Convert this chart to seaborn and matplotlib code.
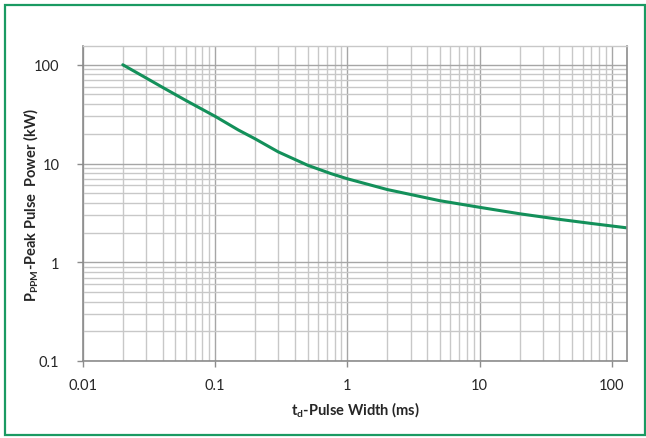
import matplotlib
matplotlib.use("Agg")
import matplotlib.pyplot as plt
import seaborn as sns
import pandas as pd
from matplotlib.patches import Rectangle
from matplotlib.ticker import LogLocator, NullFormatter, FixedLocator, FixedFormatter

pulse_width_ms = [0.02, 0.03, 0.04, 0.06, 0.1, 0.15, 0.2, 0.3, 0.4, 0.5, 0.75, 1.0, 2.0, 5.0, 10.0, 20.0, 40.0, 70.0, 130.0]
peak_power_kw = [100, 73.5, 59, 43.5, 30.0, 21.8, 17.8, 13.1, 11.0, 9.6, 7.9, 7.0, 5.45, 4.2, 3.6, 3.1, 2.72, 2.47, 2.23]

x_ticks = [0.01, 0.1, 1, 10, 100]
x_tick_labels = ["0.01", "0.1", "1", "10", "100"]
y_ticks = [0.1, 1, 10, 100]
y_tick_labels = ["0.1", "1", "10", "100"]

df = pd.DataFrame({"t": pulse_width_ms, "p": peak_power_kw})

sns.set_theme(style="white")
plt.rcParams['font.family'] = ['Lato', 'DejaVu Sans']

fig = plt.figure(figsize=(6.46, 4.39), dpi=100)
ax = fig.add_axes([0.1285, 0.1754, 0.8421, 0.7176])

sns.lineplot(data=df, x="t", y="p", ax=ax, color="#13905a", linewidth=2.2)
ax.set_xscale("log")
ax.set_yscale("log")
ax.set_xlim(0.01, 130)
ax.set_ylim(0.1, 155)

ax.xaxis.set_major_locator(FixedLocator(x_ticks))
ax.xaxis.set_major_formatter(FixedFormatter(x_tick_labels))
ax.yaxis.set_major_locator(FixedLocator(y_ticks))
ax.yaxis.set_major_formatter(FixedFormatter(y_tick_labels))
ax.xaxis.set_minor_locator(LogLocator(base=10, subs=range(2, 10), numticks=20))
ax.yaxis.set_minor_locator(LogLocator(base=10, subs=range(2, 10), numticks=20))
ax.xaxis.set_minor_formatter(NullFormatter())
ax.yaxis.set_minor_formatter(NullFormatter())

ax.grid(True, which="major", color="#a6a6a6", linewidth=1.0)
ax.grid(True, which="minor", color="#c8c8c8", linewidth=1.0)
ax.set_axisbelow(True)

for s in ["left", "bottom", "right"]:
    ax.spines[s].set_color("#8c8c8c")
    ax.spines[s].set_linewidth(1.2)
ax.spines["top"].set_color("#c8c8c8")
ax.spines["top"].set_linewidth(1.0)

ax.tick_params(axis="both", which="major", labelsize=10.5, colors="#8c8c8c",
               labelcolor="#262626", length=4, width=1.0, direction="out",
               bottom=True, left=True)
ax.tick_params(axis="both", which="minor", length=0)
ax.tick_params(axis="x", pad=8)
ax.tick_params(axis="y", pad=13)

ax.set_xlabel(r"t$_\mathregular{d}$-Pulse Width (ms)", fontsize=10.5, fontweight="bold", color="#262626", labelpad=6)
ax.set_ylabel(r"P$_\mathregular{PPM}$-Peak Pulse  Power (kW)", fontsize=10.5, fontweight="bold", color="#262626")
ax.yaxis.set_label_coords(-0.077, 0.5)

fig.patches.append(Rectangle((5 / 646, 3 / 439), 640 / 646, 430 / 439, transform=fig.transFigure,
                             fill=False, edgecolor="#1a9a62", linewidth=1.6))

fig.savefig("out.png", dpi=100, facecolor="white")
